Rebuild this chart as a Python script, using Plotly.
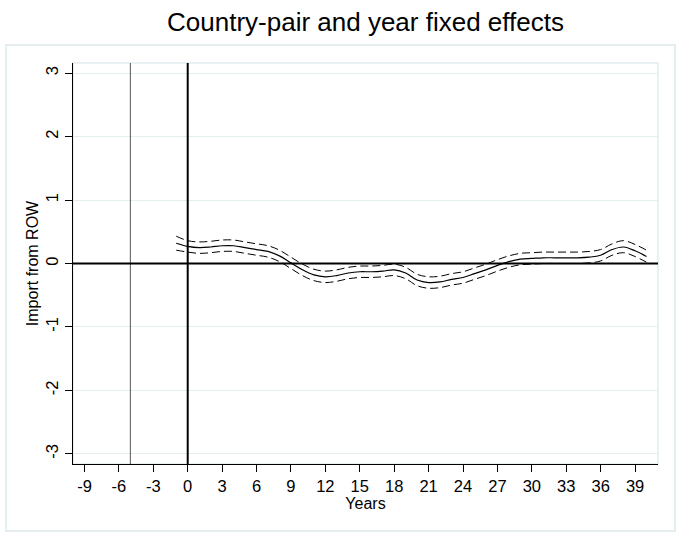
import plotly.graph_objects as go

years = list(range(-1, 41))
coef = [0.32, 0.27, 0.25, 0.26, 0.28, 0.28, 0.25, 0.22, 0.19, 0.12,
        0.01, -0.10, -0.18, -0.21, -0.19, -0.15, -0.13, -0.13, -0.12, -0.10,
        -0.15, -0.26, -0.30, -0.29, -0.25, -0.22, -0.16, -0.10, -0.03, 0.03,
        0.07, 0.08, 0.09, 0.09, 0.09, 0.09, 0.10, 0.13, 0.22, 0.26,
        0.20, 0.11]
upper = [0.43, 0.36, 0.34, 0.35, 0.37, 0.37, 0.34, 0.31, 0.28, 0.21,
         0.10, -0.01, -0.09, -0.12, -0.10, -0.06, -0.04, -0.04, -0.03, -0.01,
         -0.06, -0.17, -0.21, -0.20, -0.16, -0.13, -0.07, -0.01, 0.06, 0.12,
         0.16, 0.17, 0.18, 0.18, 0.18, 0.18, 0.19, 0.22, 0.31, 0.36,
         0.30, 0.21]
lower = [0.21, 0.18, 0.16, 0.17, 0.19, 0.19, 0.16, 0.13, 0.10, 0.03,
         -0.08, -0.19, -0.27, -0.30, -0.28, -0.24, -0.22, -0.22, -0.21, -0.19,
         -0.24, -0.35, -0.39, -0.38, -0.34, -0.31, -0.25, -0.19, -0.12, -0.06,
         -0.02, -0.01, 0.00, 0.00, 0.00, 0.00, 0.01, 0.04, 0.13, 0.17,
         0.11, 0.02]

x_ticks = list(range(-9, 40, 3))
x_ticklabels = [str(v) for v in x_ticks]
y_ticks = [-3, -2, -1, 0, 1, 2, 3]
y_ticklabels = [str(v) for v in y_ticks]
event_line = -5

title_text = "Country-pair and year fixed effects"
x_title = "Years"
y_title = "Import from ROW"

FONT = "Liberation Sans, Arial, sans-serif"
LIGHT = "#e4edef"

fig = go.Figure()
dash_line = dict(color="black", width=1, dash="8px,4px", shape="spline")
fig.add_trace(go.Scatter(x=years, y=upper, mode="lines", line=dash_line, showlegend=False, hoverinfo="skip"))
fig.add_trace(go.Scatter(x=years, y=lower, mode="lines", line=dash_line, showlegend=False, hoverinfo="skip"))
fig.add_trace(go.Scatter(x=years, y=coef, mode="lines", line=dict(color="black", width=1.2, shape="spline"), showlegend=False))

shapes = [
    # outer graph frame
    dict(type="rect", xref="paper", yref="paper", x0=-0.1145, x1=1.029, y0=-0.167, y1=1.045,
         line=dict(color=LIGHT, width=2), layer="below"),
    # plot region frame
    dict(type="rect", xref="paper", yref="paper", x0=0, x1=1, y0=0, y1=1,
         line=dict(color=LIGHT, width=1.5), layer="below"),
    dict(type="line", xref="x", yref="paper", x0=event_line, x1=event_line, y0=0, y1=1,
         line=dict(color="#555555", width=1)),
    dict(type="line", xref="x", yref="paper", x0=0, x1=0, y0=0, y1=1,
         line=dict(color="black", width=2)),
    dict(type="line", xref="paper", yref="y", x0=0, x1=1, y0=0, y1=0,
         line=dict(color="black", width=2)),
]

fig.update_layout(
    width=678, height=535,
    margin=dict(l=73, r=20, t=63, b=71),
    paper_bgcolor="white", plot_bgcolor="white",
    font=dict(family=FONT, size=16, color="black"),
    title=dict(text=title_text, x=0.5, xanchor="center", xref="paper", y=0.959, yanchor="middle",
               font=dict(size=26, family=FONT, color="black")),
    shapes=shapes,
    xaxis=dict(range=[-10, 41], tickvals=x_ticks, ticktext=x_ticklabels, ticks="outside", ticklen=7,
               tickwidth=1, tickcolor="black",
               showline=True, linecolor="black", linewidth=1, showgrid=False, zeroline=False,
               title=dict(text=x_title, standoff=0, font=dict(size=16)), tickfont=dict(size=16.5)),
    yaxis=dict(range=[-3.16, 3.16], tickvals=y_ticks, ticktext=y_ticklabels, ticks="outside", ticklen=7,
               tickwidth=1, tickcolor="black",
               tickangle=-90, showline=True, linecolor="black", linewidth=1, showgrid=True, gridcolor=LIGHT,
               gridwidth=1, zeroline=False, title=dict(text=y_title, standoff=0, font=dict(size=16)),
               tickfont=dict(size=16.5)),
)

fig.write_html("out.html", config={"displayModeBar": False},
               post_script="document.body.style.margin='0';")
